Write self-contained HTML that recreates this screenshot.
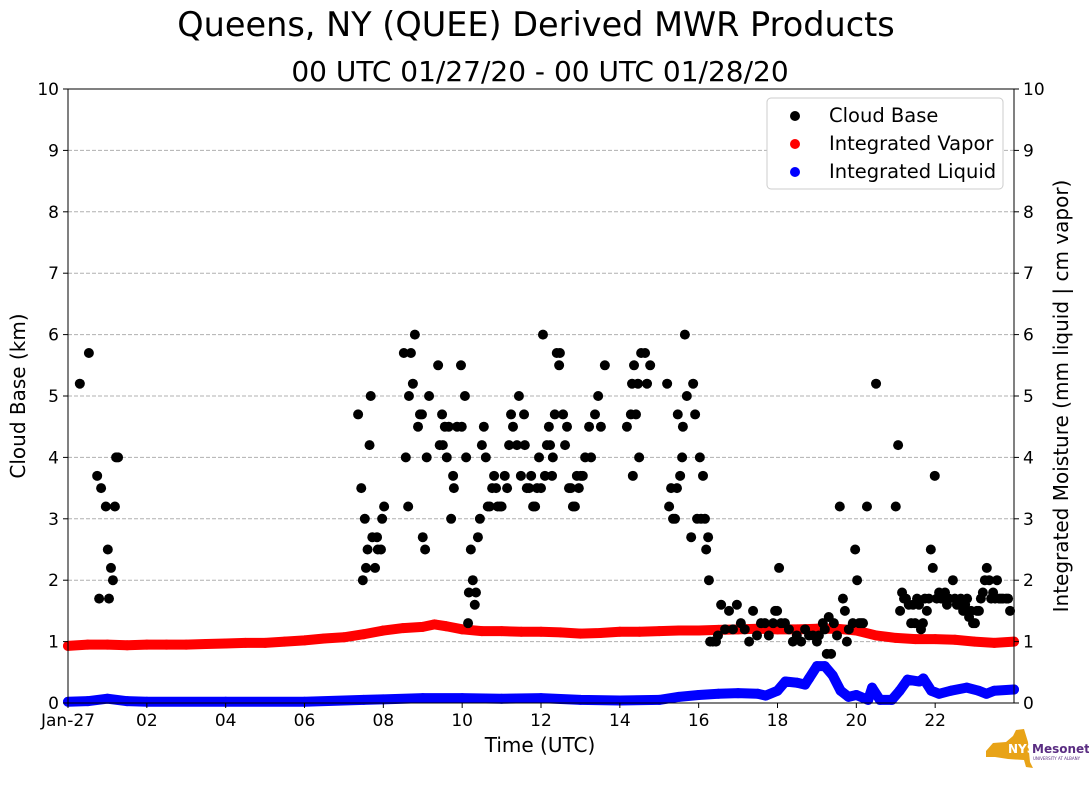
<!DOCTYPE html>
<html><head><meta charset="utf-8"><style>
body{margin:0;background:#fff;}
svg text{font-family:"DejaVu Sans","Liberation Sans",sans-serif;}
</style></head><body>
<svg id="c" width="1089" height="804" xmlns="http://www.w3.org/2000/svg">
<text x="536" y="36" font-size="33.5" text-anchor="middle">Queens, NY (QUEE) Derived MWR Products</text>
<text x="540" y="81" font-size="28" text-anchor="middle">00 UTC 01/27/20 - 00 UTC 01/28/20</text>
<g id="grid"></g><g id="marks"></g><g id="axes"></g>
<text x="540" y="752" font-size="20" text-anchor="middle">Time (UTC)</text>
<text transform="translate(25,396) rotate(-90)" font-size="20" text-anchor="middle">Cloud Base (km)</text>
<text transform="translate(1068,396) rotate(-90)" font-size="20" text-anchor="middle">Integrated Moisture (mm liquid | cm vapor)</text>
<g>
<rect x="767" y="98" width="236" height="91" rx="4" fill="#fff" stroke="#ccc"/>
<circle cx="795" cy="116" r="5" fill="#000"/><text x="829" y="122" font-size="19.5">Cloud Base</text>
<circle cx="795" cy="144" r="5" fill="red"/><text x="829" y="150" font-size="19.5">Integrated Vapor</text>
<circle cx="795" cy="172" r="5" fill="blue"/><text x="829" y="178" font-size="19.5">Integrated Liquid</text>
</g>
<g>
<path d="M986,751 L993,743 L1006,742 L1013,736 L1016,730 L1024,729 L1028,742 L1030,762 L1033,768 L1026,767 L1024,760 L1008,759 L995,757 L986,757 Z" fill="#e8a317"/>
<text x="1008" y="753" font-size="12" font-weight="bold" fill="#fff">NYS</text>
<text x="1032" y="753" font-size="12" font-weight="bold" fill="#5a2d82">Mesonet</text>
<text x="1033" y="760" font-size="4" fill="#5a2d82">UNIVERSITY AT ALBANY</text>
</g>
</svg>
<script>
const cbHours=[0.30,0.53,0.74,0.79,0.84,0.96,1.01,1.04,1.09,1.14,1.19,1.22,1.27,
7.36,7.44,7.48,7.53,7.56,7.6,7.65,7.68,7.72,7.79,7.84,7.86,7.94,7.97,8.02,8.52,8.57,8.63,8.65,8.7,8.75,8.8,8.88,8.93,8.98,9.0,9.06,9.1,9.16,
9.39,9.43,9.49,9.51,9.56,9.61,9.66,9.72,9.77,9.79,9.87,9.97,9.99,10.07,10.1,10.15,10.17,10.22,10.27,10.32,10.35,10.4,10.45,10.5,10.55,10.6,10.65,10.7,10.76,10.81,10.86,10.9,10.96,11.0,11.08,11.14,11.19,11.24,11.29,11.39,11.44,11.49,11.57,
11.59,11.64,11.7,11.75,11.8,11.85,11.9,11.95,12.0,12.05,12.1,12.15,12.2,12.23,12.28,12.3,12.35,12.4,12.46,12.48,12.56,12.61,12.66,12.71,12.76,12.81,12.86,12.91,12.96,13.01,13.06,13.12,13.22,13.27,13.37,13.45,13.52,13.62,
14.18,14.28,14.31,14.33,14.36,14.41,14.46,14.49,14.54,14.64,14.69,14.77,15.2,15.25,15.3,15.35,15.4,15.45,15.47,15.53,15.58,15.6,15.65,15.7,15.81,15.86,15.91,15.96,16.03,16.06,16.11,16.16,16.19,16.24,16.26,
16.29,16.36,16.44,16.49,16.57,16.67,16.77,16.87,16.97,17.07,17.17,17.28,17.38,17.48,17.58,17.68,17.78,17.89,17.94,17.99,18.04,18.09,18.19,18.29,18.39,18.49,18.6,18.7,18.8,18.9,19.0,19.05,19.15,19.2,19.25,19.3,19.36,19.43,19.51,19.58,19.66,19.71,19.76,19.81,19.91,19.97,20.02,20.07,20.12,20.17,20.27,20.5,21.0,21.06,21.11,21.16,21.21,21.26,21.33,21.39,21.44,21.49,21.54,21.59,21.64,21.69,21.74,21.79,21.84,21.89,21.94,21.99,22.04,22.1,22.15,22.2,22.25,22.3,22.35,22.45,22.5,22.55,22.6,22.65,22.71,22.76,22.81,22.86,22.91,22.96,23.01,23.06,23.11,23.16,23.21,23.26,23.31,23.37,23.42,23.47,23.52,23.57,23.62,23.67,23.72,23.8,23.85,23.9];
const cbKm=[5.2,5.7,3.7,1.7,3.5,3.2,2.5,1.7,2.2,2.0,3.2,4.0,4.0,
4.7,3.5,2.0,3.0,2.2,2.5,4.2,5.0,2.7,2.2,2.7,2.5,2.5,3.0,3.2,5.7,4.0,3.2,5.0,5.7,5.2,6.0,4.5,4.7,4.7,2.7,2.5,4.0,5.0,
5.5,4.2,4.7,4.2,4.5,4.0,4.5,3.0,3.7,3.5,4.5,5.5,4.5,5.0,4.0,1.3,1.8,2.5,2.0,1.6,1.8,2.7,3.0,4.2,4.5,4.0,3.2,3.2,3.5,3.7,3.5,3.2,3.2,3.2,3.7,3.5,4.2,4.7,4.5,4.2,5.0,3.7,4.7,
4.2,3.5,3.5,3.7,3.2,3.2,3.5,4.0,3.5,6.0,3.7,4.2,4.5,4.2,3.7,4.0,4.7,5.7,5.5,5.7,4.7,4.2,4.5,3.5,3.5,3.2,3.2,3.7,3.5,3.7,3.7,4.0,4.5,4.0,4.7,5.0,4.5,5.5,
4.5,4.7,5.2,3.7,5.5,4.7,5.2,4.0,5.7,5.7,5.2,5.5,5.2,3.2,3.5,3.0,3.0,3.5,4.7,3.7,4.0,4.5,6.0,5.0,2.7,5.2,4.7,3.0,4.0,3.0,3.7,3.0,2.5,2.7,2.0,
1.0,1.0,1.0,1.1,1.6,1.2,1.5,1.2,1.6,1.3,1.2,1.0,1.5,1.1,1.3,1.3,1.1,1.3,1.5,1.5,2.2,1.3,1.3,1.2,1.0,1.1,1.0,1.2,1.1,1.1,1.0,1.1,1.3,1.2,0.8,1.4,0.8,1.3,1.1,3.2,1.7,1.5,1.0,1.2,1.3,2.5,2.0,1.3,1.3,1.3,3.2,5.2,3.2,4.2,1.5,1.8,1.7,1.7,1.6,1.3,1.6,1.3,1.7,1.6,1.2,1.3,1.7,1.5,1.7,2.5,2.2,3.7,1.7,1.8,1.7,1.7,1.8,1.6,1.7,2.0,1.7,1.6,1.6,1.7,1.5,1.6,1.7,1.4,1.5,1.3,1.3,1.5,1.5,1.7,1.8,2.0,2.2,2.0,1.7,1.8,1.7,2.0,1.7,1.7,1.7,1.7,1.7,1.5];
const vapHours=[0,0.5,1,1.5,2,2.5,3,3.5,4,4.5,5,5.5,6,6.5,7,7.5,8,8.5,9,9.3,9.6,10,10.5,11,11.5,12,12.5,13,13.5,14,14.5,15,15.5,16,16.5,17,17.5,18,18.5,19,19.5,20,20.5,21,21.5,22,22.5,23,23.5,24];
const vapVals=[0.93,0.95,0.95,0.94,0.95,0.95,0.95,0.96,0.97,0.98,0.98,1.0,1.02,1.05,1.07,1.12,1.18,1.22,1.24,1.28,1.25,1.2,1.17,1.17,1.16,1.16,1.15,1.13,1.14,1.16,1.16,1.17,1.18,1.18,1.19,1.2,1.21,1.2,1.2,1.21,1.21,1.18,1.1,1.06,1.04,1.04,1.03,1.0,0.98,1.0];
const liqHours=[0,0.5,1,1.5,2,4,6,7.5,8,9,10,11,12,13,14,15,15.5,16,16.5,17,17.5,17.7,18,18.2,18.5,18.7,18.8,19.0,19.2,19.4,19.6,19.8,20,20.3,20.4,20.6,20.9,21.1,21.3,21.6,21.7,21.9,22.1,22.4,22.8,23.1,23.3,23.5,24];
const liqVals=[0.02,0.03,0.07,0.03,0.02,0.02,0.02,0.05,0.06,0.08,0.08,0.07,0.08,0.05,0.04,0.05,0.1,0.13,0.15,0.16,0.15,0.12,0.2,0.35,0.33,0.3,0.4,0.6,0.6,0.45,0.2,0.1,0.13,0.05,0.25,0.05,0.05,0.2,0.38,0.35,0.4,0.2,0.15,0.2,0.25,0.2,0.15,0.2,0.22];
const yTicks=[0,1,2,3,4,5,6,7,8,9,10];
const xTickHours=[0,2,4,6,8,10,12,14,16,18,20,22];
const xTickLabels=["Jan-27","02","04","06","08","10","12","14","16","18","20","22"];
const X0=68,X1=1014,Y0=703,Y1=89;
const xs=h=>X0+h/24*(X1-X0);
const ys=v=>Y0-v/10*(Y0-Y1);
const NS="http://www.w3.org/2000/svg";
function mk(t,a,p){const e=document.createElementNS(NS,t);for(const k in a)e.setAttribute(k,a[k]);p.appendChild(e);return e;}
const grid=document.getElementById('grid'),marks=document.getElementById('marks'),axes=document.getElementById('axes');
yTicks.forEach(v=>{
 if(v>0&&v<10){const g=mk('line',{x1:X0,x2:X1,y1:ys(v),y2:ys(v),stroke:'#b0b0b0','stroke-dasharray':'4,2'},grid);
 
 }
 mk('line',{x1:X0-5,x2:X0,y1:ys(v),y2:ys(v),stroke:'#000'},axes);
 mk('line',{x1:X1,x2:X1+5,y1:ys(v),y2:ys(v),stroke:'#000'},axes);
 const t=mk('text',{x:X0-9,y:ys(v)+6,'font-size':17,'text-anchor':'end'},axes);t.textContent=v;
 
 
 const t2=mk('text',{x:X1+9,y:ys(v)+6,'font-size':17},axes);t2.textContent=v;
 
 
});
xTickHours.forEach((h,i)=>{
 mk('line',{x1:xs(h),x2:xs(h),y1:Y0,y2:Y0+5,stroke:'#000'},axes);
 const t=mk('text',{x:xs(h),y:Y0+23,'font-size':17,'text-anchor':'middle'},axes);t.textContent=xTickLabels[i];
 
 
});
const fr=mk('rect',{x:X0,y:Y1,width:X1-X0,height:Y0-Y1,fill:'none',stroke:'#000'},axes);


function band(H,V,col,name){
 const pts=H.map((h,i)=>xs(h)+','+ys(V[i])).join(' ');
 const pl=mk('polyline',{points:pts,fill:'none',stroke:col,'stroke-width':10,'stroke-linejoin':'round','stroke-linecap':'round'},marks);
 
 
 H.forEach((h,i)=>{const c=mk('circle',{cx:xs(h),cy:ys(V[i]),r:5,fill:col},marks);
 
 });
}
band(vapHours,vapVals,'red','integrated-vapor-series');
band(liqHours,liqVals,'blue','integrated-liquid-series');
cbHours.forEach((h,i)=>{const c=mk('circle',{cx:xs(h),cy:ys(cbKm[i]),r:5,fill:'#000'},marks);
 
 });
</script>
</body></html>
